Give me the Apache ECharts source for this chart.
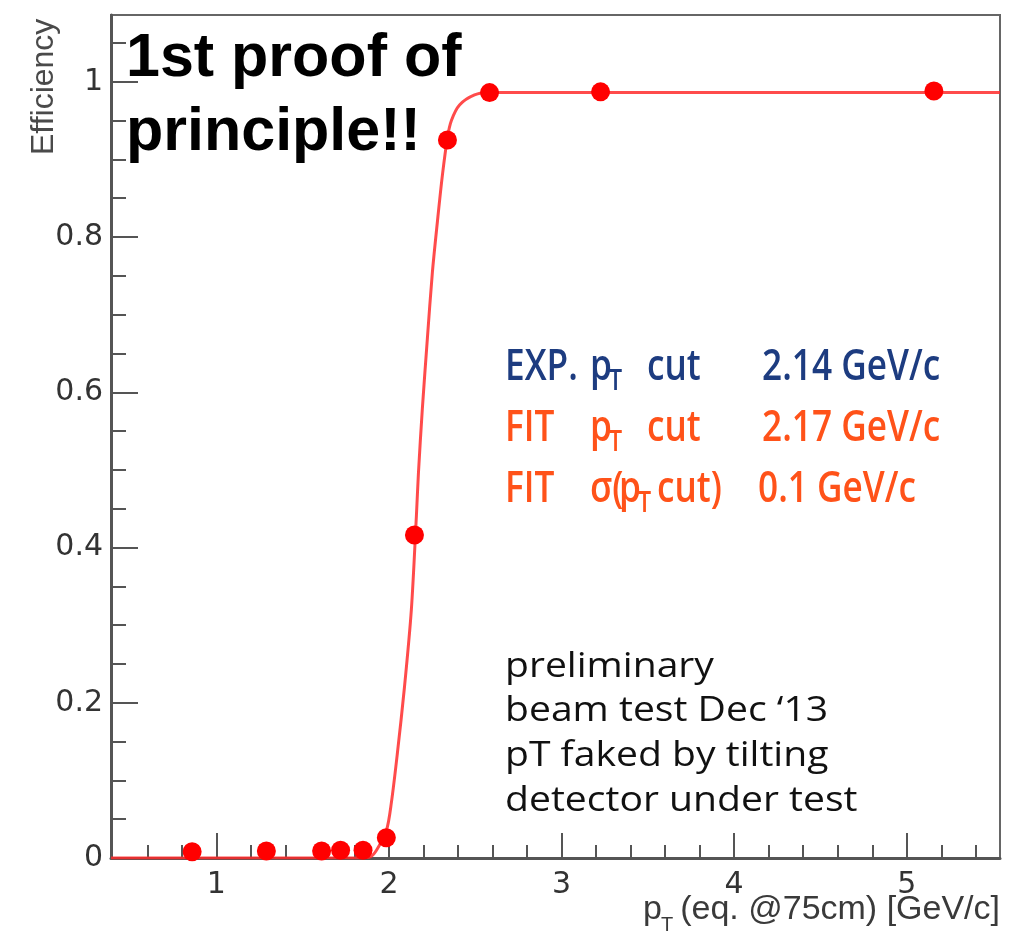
<!DOCTYPE html>
<html>
<head>
<meta charset="utf-8">
<script src="https://cdn.jsdelivr.net/npm/echarts@6/dist/echarts.min.js"></script>
<style>
  html, body { margin: 0; padding: 0; background: #ffffff; }
  #chart { width: 1031px; height: 933px; }
</style>
</head>
<body>
<div id="chart"></div>
<script>
// Measured efficiency versus transverse momentum (GeV/c)
const ptValues   = [0.86, 1.29, 1.61, 1.72, 1.85, 1.985, 2.148, 2.339, 2.583, 3.226, 5.157];
const efficiency = [0.008, 0.009, 0.009, 0.010, 0.010, 0.026, 0.416, 0.925, 0.986, 0.987, 0.988];

// Fitted turn-on curve
const fitPt  = [0.39, 1.80, 1.887, 1.928, 1.986, 2.014, 2.049, 2.090, 2.130, 2.159, 2.171, 2.194, 2.223, 2.252, 2.281, 2.310, 2.339, 2.362, 2.409, 2.496, 2.583, 2.80, 5.54];
const fitEff = [0, 0, 0.001, 0.010, 0.036, 0.071, 0.135, 0.220, 0.320, 0.440, 0.496, 0.580, 0.670, 0.755, 0.820, 0.880, 0.928, 0.950, 0.970, 0.983, 0.986, 0.986, 0.986];

// Axis ranges and tick positions
const xRange = [0.39, 5.54];
const yRange = [0, 1.086];
const xMajorTicks = [1, 2, 3, 4, 5];
const xMinorTicks = [0.6, 0.8, 1.2, 1.4, 1.6, 1.8, 2.2, 2.4, 2.6, 2.8, 3.2, 3.4, 3.6, 3.8, 4.2, 4.4, 4.6, 4.8, 5.2, 5.4];
const yMajorTicks = [0, 0.2, 0.4, 0.6, 0.8, 1];
const yMinorTicks = [0.05, 0.1, 0.15, 0.25, 0.3, 0.35, 0.45, 0.5, 0.55, 0.65, 0.7, 0.75, 0.85, 0.9, 0.95, 1.05];

const axisColor = '#555555';
const labelFont = '"Liberation Sans", Arial, sans-serif';
const tickFont = '"DejaVu Sans", "Liberation Sans", sans-serif';
const noteFont = '"Open Sans", "Noto Sans", sans-serif';
const red = '#ff0000';
const blue = '#1d3c80';
const orange = '#ff5219';

const chart = echarts.init(document.getElementById('chart'), null, { renderer: 'canvas' });

// Places text so that its alphabetic baseline sits at the given y
function label(text, x, baseline, size, color, opts) {
  opts = opts || {};
  return {
    type: 'text',
    x: x,
    y: baseline - 0.35 * size,
    scaleX: opts.scaleX || 1,
    z: 100,
    style: {
      text: text,
      fill: color,
      fontSize: size,
      fontFamily: opts.family || noteFont,
      fontWeight: opts.weight || 'normal',
      align: opts.align || 'left',
      verticalAlign: 'middle'
    }
  };
}

// cut-value block: condensed semibold lettering
const lg = { scaleX: 0.8, weight: 600 };
function legendText(text, x, baseline, color) {
  return label(text, x, baseline, 44, color, lg);
}
function legendSub(text, x, baseline, color) {
  return label(text, x, baseline + 9, 29, color, lg);
}

// run notes: wide regular lettering
const nt = { scaleX: 1.15, weight: 500 };

const graphics = [
  // headline
  label('1st proof of', 126, 81, 61, '#000000', { family: labelFont, weight: 'bold' }),
  label('principle!!', 126, 155, 61, '#000000', { family: labelFont, weight: 'bold' }),

  // expected and fitted cut values
  legendText('EXP.', 505, 383, blue),
  legendText('p', 590, 383, blue),
  legendSub('T', 609, 383, blue),
  legendText('cut', 647, 383, blue),
  legendText('2.14 GeV/c', 762, 383, blue),

  legendText('FIT', 505, 444, orange),
  legendText('p', 590, 444, orange),
  legendSub('T', 609, 444, orange),
  legendText('cut', 647, 444, orange),
  legendText('2.17 GeV/c', 762, 444, orange),

  legendText('FIT', 505, 505, orange),
  legendText('σ(', 590, 505, orange),
  legendText('p', 619, 505, orange),
  legendSub('T', 638, 505, orange),
  legendText('cut)', 657, 505, orange),
  legendText('0.1 GeV/c', 758, 505, orange),

  // run notes
  label('preliminary', 505, 679, 34, '#111111', nt),
  label('beam test Dec \u201813', 505, 723, 34, '#111111', nt),
  label('pT faked by tilting', 505, 768, 34, '#111111', nt),
  label('detector under test', 505, 813, 34, '#111111', nt),

  // axis titles
  label('(eq. @75cm) [GeV/c]', 1000, 922, 34, '#3a3a3a', { family: labelFont, align: 'right' }),
  label('p', 643, 922, 34, '#3a3a3a', { family: labelFont }),
  label('T', 661, 932, 20, '#3a3a3a', { family: labelFont }),
  {
    type: 'text',
    x: 44,
    y: 155,
    rotation: Math.PI / 2,
    z: 100,
    style: {
      text: 'Efficiency',
      fill: '#4a4a4a',
      fontSize: 32,
      fontFamily: labelFont,
      align: 'left',
      verticalAlign: 'middle'
    }
  }
];

function tickAxis(extent, ticks, len, withLabels, withLine) {
  return {
    type: 'value',
    min: extent[0],
    max: extent[1],
    axisLine: { show: withLine, onZero: false, lineStyle: { color: axisColor, width: 3 } },
    axisTick: {
      show: true,
      inside: true,
      length: len,
      customValues: ticks,
      lineStyle: { color: axisColor, width: 2 }
    },
    axisLabel: {
      show: withLabels,
      customValues: ticks,
      color: '#333333',
      fontSize: 30,
      fontFamily: tickFont
    },
    splitLine: { show: false },
    minorTick: { show: false }
  };
}

const xMajor = tickAxis(xRange, xMajorTicks, 25, true, true);
xMajor.position = 'bottom';
xMajor.axisLabel.margin = 12;
const xMinor = tickAxis(xRange, xMinorTicks, 13, false, false);
xMinor.position = 'bottom';

const yMajor = tickAxis(yRange, yMajorTicks, 27, true, true);
yMajor.position = 'left';
yMajor.axisLabel.margin = 8;
const yMinor = tickAxis(yRange, yMinorTicks, 15, false, false);
yMinor.position = 'left';

chart.setOption({
  animation: false,
  backgroundColor: '#ffffff',
  grid: {
    left: 111,
    right: 31,
    top: 15,
    bottom: 75,
    show: true,
    borderColor: '#666666',
    borderWidth: 2,
    containLabel: false
  },
  xAxis: [xMajor, xMinor],
  yAxis: [yMajor, yMinor],
  graphic: graphics,
  series: [
    {
      name: 'fit',
      type: 'line',
      xAxisIndex: 0,
      yAxisIndex: 0,
      data: fitPt.map((x, i) => [x, fitEff[i]]),
      showSymbol: false,
      smooth: 0.3,
      lineStyle: { color: '#ff2b2b', width: 3, opacity: 0.85 },
      z: 3
    },
    {
      name: 'data',
      type: 'scatter',
      xAxisIndex: 0,
      yAxisIndex: 0,
      data: ptValues.map((x, i) => [x, efficiency[i]]),
      symbol: 'circle',
      symbolSize: 19,
      itemStyle: { color: red, opacity: 1 },
      z: 4
    }
  ]
});
</script>
</body>
</html>
